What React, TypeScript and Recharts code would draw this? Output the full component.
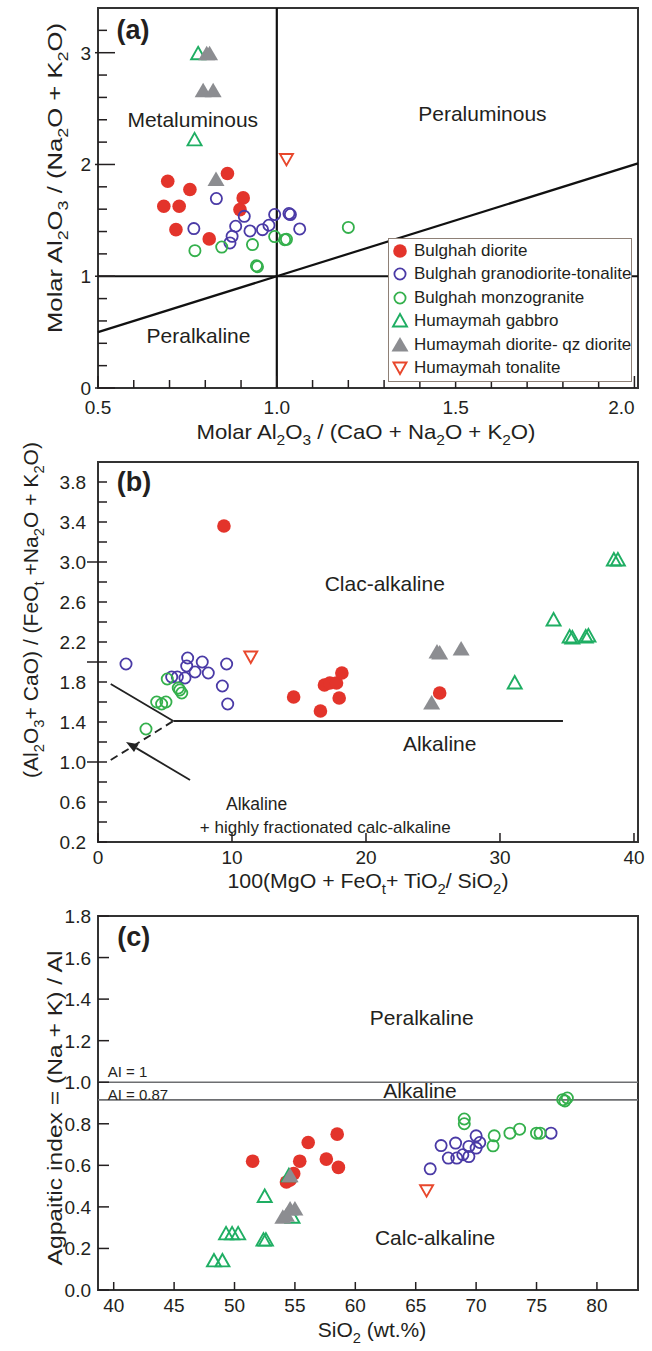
import React from "react";
import {
  ScatterChart,
  Scatter,
  XAxis,
  YAxis,
  ReferenceLine,
  ReferenceArea,
  ReferenceDot,
  Legend,
  Label,
} from "recharts";

const FONT = '"Liberation Sans", Arial, Helvetica, sans-serif';
const INK = "#231f20";
const RED = "#e3342b";
const BLUE = "#4a3aa6";
const GREEN = "#34b04c";
const TEAL = "#1fae63";
const GREY = "#8c8d91";
const ORANGE = "#e8472c";

type Pt = [number, number];

// ---- (a) A/NK vs A/CNK
const aDiorite: Pt[] = [[0.695, 1.85], [0.757, 1.776], [0.684, 1.626], [0.727, 1.626], [0.718, 1.417], [0.811, 1.334], [0.862, 1.919], [0.906, 1.701], [0.897, 1.596]];
const aGranodiorite: Pt[] = [[0.831, 1.695], [0.768, 1.426], [0.909, 1.536], [0.885, 1.447], [0.875, 1.357], [0.869, 1.298], [0.925, 1.405], [0.96, 1.417], [0.978, 1.456], [0.994, 1.552], [1.034, 1.561], [1.038, 1.552], [1.064, 1.423]];
const aMonzogranite: Pt[] = [[0.771, 1.229], [0.846, 1.261], [0.932, 1.283], [0.943, 1.094], [0.946, 1.085], [0.994, 1.355], [1.022, 1.327], [1.027, 1.33], [1.2, 1.437]];
const aGabbro: Pt[] = [[0.78, 2.99], [0.77, 2.22]];
const aQzDiorite: Pt[] = [[0.804, 2.99], [0.812, 2.99], [0.794, 2.66], [0.822, 2.66], [0.83, 1.865]];
const aTonalite: Pt[] = [[1.027, 2.045]];

// ---- (b) (Al2O3+CaO)/(FeOt+Na2O+K2O) vs 100(MgO+FeOt+TiO2)/SiO2
const bDiorite: Pt[] = [[9.4, 3.36], [14.6, 1.65], [16.6, 1.51], [16.9, 1.77], [17.3, 1.79], [17.8, 1.79], [18.2, 1.89], [18.0, 1.64], [25.5, 1.69]];
const bGranodiorite: Pt[] = [[2.09, 1.98], [6.69, 2.04], [7.78, 2.0], [9.6, 1.98], [6.62, 1.96], [7.24, 1.9], [8.23, 1.89], [6.49, 1.84], [5.92, 1.85], [5.5, 1.85], [9.28, 1.76], [9.68, 1.58]];
const bMonzogranite: Pt[] = [[5.17, 1.83], [5.99, 1.74], [6.1, 1.72], [6.25, 1.69], [4.38, 1.6], [4.75, 1.58], [5.07, 1.6], [3.58, 1.33]];
const bGabbro: Pt[] = [[31.1, 1.79], [34.0, 2.42], [35.2, 2.25], [35.4, 2.24], [36.4, 2.25], [36.6, 2.26], [38.5, 3.02], [38.8, 3.02]];
const bQzDiorite: Pt[] = [[25.3, 2.1], [25.5, 2.09], [27.1, 2.13], [24.9, 1.59]];
const bTonalite: Pt[] = [[11.4, 2.05]];

// ---- (c) agpaitic index vs SiO2
const cDiorite: Pt[] = [[51.5, 0.62], [54.3, 0.52], [54.6, 0.53], [54.9, 0.56], [55.4, 0.62], [56.1, 0.71], [57.6, 0.63], [58.5, 0.75], [58.6, 0.59]];
const cGranodiorite: Pt[] = [[76.2, 0.755], [66.2, 0.583], [67.1, 0.695], [68.3, 0.707], [67.7, 0.635], [68.4, 0.635], [68.9, 0.651], [69.4, 0.642], [69.4, 0.691], [70.0, 0.742], [70.3, 0.71], [70.0, 0.683]];
const cMonzogranite: Pt[] = [[77.17, 0.916], [77.55, 0.924], [77.35, 0.91], [69.02, 0.823], [69.02, 0.8], [71.5, 0.742], [71.4, 0.694], [72.8, 0.755], [73.6, 0.774], [75.0, 0.755], [75.3, 0.755]];
const cGabbro: Pt[] = [[48.3, 0.14], [49.0, 0.14], [49.3, 0.27], [49.8, 0.27], [50.3, 0.27], [52.4, 0.24], [52.6, 0.24], [52.5, 0.45], [54.8, 0.35], [54.5, 0.55]];
const cQzDiorite: Pt[] = [[54.0, 0.35], [54.3, 0.36], [54.6, 0.39], [55.0, 0.39], [54.6, 0.55]];
const cTonalite: Pt[] = [[65.9, 0.478]];

const SERIES = [
  { name: "Bulghah diorite", kind: "dot" },
  { name: "Bulghah granodiorite-tonalite", kind: "ringBlue" },
  { name: "Bulghah monzogranite", kind: "ringGreen" },
  { name: "Humaymah gabbro", kind: "tri" },
  { name: "Humaymah diorite- qz diorite", kind: "triFill" },
  { name: "Humaymah tonalite", kind: "inv" },
];
const A_DATA = [aDiorite, aGranodiorite, aMonzogranite, aGabbro, aQzDiorite, aTonalite];
const B_DATA = [bDiorite, bGranodiorite, bMonzogranite, bGabbro, bQzDiorite, bTonalite];
const C_DATA = [cDiorite, cGranodiorite, cMonzogranite, cGabbro, cQzDiorite, cTonalite];

// axes
const A_X_DOMAIN = [0.5, 2.01];
const A_X_TICKS = [0.5, 0.6, 0.7, 0.8, 0.9, 1.0, 1.1, 1.2, 1.3, 1.4, 1.5, 1.6, 1.7, 1.8, 1.9, 2.0];
const A_X_LABELS = [0.5, 1.0, 1.5, 2.0];
const A_Y_DOMAIN = [0, 3.4];
const A_Y_TICKS = [0, 0.2, 0.4, 0.6, 0.8, 1, 1.2, 1.4, 1.6, 1.8, 2, 2.2, 2.4, 2.6, 2.8, 3, 3.2];
const A_Y_LABELS = [0, 1, 2, 3];

const B_X_DOMAIN = [0, 40.3];
const B_X_TICKS = [0, 10, 20, 30, 40];
const B_Y_DOMAIN = [0.2, 4.0];
const B_Y_TICKS = [0.2, 0.4, 0.6, 0.8, 1.0, 1.2, 1.4, 1.6, 1.8, 2.0, 2.2, 2.4, 2.6, 2.8, 3.0, 3.2, 3.4, 3.6, 3.8];
const B_Y_LABELS = [0.2, 0.6, 1.0, 1.4, 1.8, 2.2, 2.6, 3.0, 3.4, 3.8];
const B_Y_MAJOR = [1, 2, 3];

const C_X_DOMAIN = [38.7, 83.4];
const C_X_TICKS = [40, 45, 50, 55, 60, 65, 70, 75, 80];
const C_Y_DOMAIN = [0, 1.8];
const C_Y_TICKS = [0, 0.2, 0.4, 0.6, 0.8, 1.0, 1.2, 1.4, 1.6, 1.8];

const toXY = (pts: Pt[]) => pts.map(([x, y]) => ({ x, y }));
const has = (arr: number[], v: number) => arr.some((t) => Math.abs(t - v) < 1e-6);

function Marker({ kind, cx, cy }: { kind: string; cx: number; cy: number }) {
  if (kind === "dot") return <circle cx={cx} cy={cy} r={6.8} fill={RED} />;
  if (kind === "ringBlue") return <circle cx={cx} cy={cy} r={5.6} fill="none" stroke={BLUE} strokeWidth={1.8} />;
  if (kind === "ringGreen") return <circle cx={cx} cy={cy} r={5.6} fill="none" stroke={GREEN} strokeWidth={1.8} />;
  if (kind === "tri")
    return <polygon points={`${cx},${cy - 7} ${cx + 7},${cy + 5.5} ${cx - 7},${cy + 5.5}`} fill="none" stroke={TEAL} strokeWidth={1.9} />;
  if (kind === "triFill")
    return <polygon points={`${cx},${cy - 8} ${cx + 8.5},${cy + 6.5} ${cx - 8.5},${cy + 6.5}`} fill={GREY} />;
  return <polygon points={`${cx - 6.5},${cy - 5.5} ${cx + 6.5},${cy - 5.5} ${cx},${cy + 6}`} fill="none" stroke={ORANGE} strokeWidth={1.9} />;
}

// text with _x subscripts
function Sub({ text, x, y, size = 21, anchor = "middle", rotate = false, weight = 400, length }: any) {
  const parts = text.split(/(_[A-Za-z0-9])/).filter((s: string) => s.length);
  const shift = size * 0.3;
  let down = false;
  const spans = parts.map((s: string, i: number) => {
    if (s[0] === "_") {
      const el = <tspan key={i} dy={down ? 0 : shift} fontSize={size * 0.7}>{s.slice(1)}</tspan>;
      down = true;
      return el;
    }
    const el = <tspan key={i} dy={down ? -shift : 0}>{s}</tspan>;
    down = false;
    return el;
  });
  return (
    <text
      x={x}
      y={y}
      textAnchor={anchor}
      transform={rotate ? `rotate(-90 ${x} ${y})` : undefined}
      fontSize={size}
      fontFamily={FONT}
      fontWeight={weight}
      fill={INK}
      textLength={length}
      lengthAdjust={length ? "spacingAndGlyphs" : undefined}
    >
      {spans}
    </text>
  );
}

function note(x: number, y: number, text: string, opt: { size?: number; anchor?: string; bold?: boolean } = {}) {
  const size = opt.size ?? 21;
  return (
    <ReferenceDot
      x={x}
      y={y}
      r={0}
      ifOverflow="visible"
      shape={(p: any) => (
        <Sub text={text} x={p.cx} y={p.cy + size * 0.36} size={size} anchor={opt.anchor ?? "middle"} weight={opt.bold ? 700 : 400} />
      )}
    />
  );
}

function yTick(labels: number[], major: number[], fmt: (v: number) => string, o: { majIn: number; minIn: number; majOut: number; gap: number }) {
  return (p: any) => {
    const v = p.payload.value;
    const isMaj = has(major, v);
    return (
      <g>
        <line x1={p.x - (isMaj ? o.majOut : 0)} x2={p.x + (isMaj ? o.majIn : o.minIn)} y1={p.y} y2={p.y} stroke={INK} strokeWidth={1.5} />
        {has(labels, v) && (
          <text x={p.x - o.gap} y={p.y + 7} textAnchor="end" fontSize={19} fontFamily={FONT} fill={INK}>
            {fmt(v)}
          </text>
        )}
      </g>
    );
  };
}

function xTick(labels: number[], fmt: (v: number) => string, o: { majIn: number; minIn: number; below: number; nudge?: Record<string, number> }) {
  return (p: any) => {
    const v = p.payload.value;
    const lab = has(labels, v);
    const dx = (o.nudge && o.nudge[String(v)]) || 0;
    return (
      <g>
        <line x1={p.x} x2={p.x} y1={p.y} y2={p.y - (lab ? o.majIn : o.minIn)} stroke={INK} strokeWidth={1.5} />
        {lab && (
          <text x={p.x + dx} y={p.y + o.below} textAnchor="middle" fontSize={19} fontFamily={FONT} fill={INK}>
            {fmt(v)}
          </text>
        )}
      </g>
    );
  };
}

function LegendBox() {
  return (
    <div
      style={{
        width: 244,
        height: 144,
        boxSizing: "border-box",
        border: "1.5px solid #8e8076",
        background: "#fff",
        fontFamily: FONT,
        fontSize: 17,
        color: INK,
      }}
    >
      {SERIES.map((s) => (
        <div key={s.name} style={{ display: "flex", alignItems: "center", height: 23.5 }}>
          <svg width={24} height={20} style={{ flex: "none" }}>
            <Marker kind={s.kind} cx={11} cy={10} />
          </svg>
          <span style={{ marginLeft: 1, whiteSpace: "nowrap" }}>{s.name}</span>
        </div>
      ))}
    </div>
  );
}

const scatters = (data: Pt[][]) =>
  SERIES.map((s, i) => (
    <Scatter
      key={s.name}
      name={s.name}
      data={toXY(data[i])}
      isAnimationActive={false}
      shape={(p: any) => <Marker kind={s.kind} cx={p.cx} cy={p.cy} />}
    />
  ));

const frame = (xd: number[], yd: number[]) => (
  <ReferenceArea x1={xd[0]} x2={xd[1]} y1={yd[0]} y2={yd[1]} fill="none" fillOpacity={0} stroke="#333" strokeWidth={2} />
);

export default function App() {
  return (
    <div style={{ position: "absolute", left: 0, top: 0, width: 652, height: 1351, background: "#fff" }}>
      {/* (a) */}
      <div style={{ position: "absolute", left: 0, top: 0 }}>
        <ScatterChart width={652} height={450} margin={{ top: 8, right: 14, bottom: 0, left: 0 }}>
          <XAxis
            type="number"
            dataKey="x"
            domain={A_X_DOMAIN}
            ticks={A_X_TICKS}
            interval={0}
            allowDataOverflow
            height={62}
            tickSize={0}
            tickMargin={0}
            axisLine={false}
            tickLine={false}
            tick={xTick(A_X_LABELS, (v) => v.toFixed(1), { majIn: 12, minIn: 8, below: 26, nudge: { "2": -13 } })}
          >
            <Label content={() => <Sub text="Molar Al_2O_3 / (CaO + Na_2O + K_2O)" x={366} y={439} length={339} />} />
          </XAxis>
          <YAxis
            type="number"
            dataKey="y"
            domain={A_Y_DOMAIN}
            ticks={A_Y_TICKS}
            interval={0}
            allowDataOverflow
            width={98}
            tickSize={0}
            tickMargin={0}
            axisLine={false}
            tickLine={false}
            tick={yTick(A_Y_LABELS, A_Y_LABELS, (v) => String(v), { majIn: 17, minIn: 9, majOut: 3, gap: 7 })}
          >
            <Label content={() => <Sub text="Molar Al_2O_3 / (Na_2O + K_2O)" x={62} y={178} rotate length={310} />} />
          </YAxis>
          {frame(A_X_DOMAIN, A_Y_DOMAIN)}
          <ReferenceLine x={1} stroke="#111" strokeWidth={2.2} />
          <ReferenceLine y={1} stroke="#111" strokeWidth={2.2} />
          <ReferenceLine segment={[{ x: 0.5, y: 0.5 }, { x: 2.01, y: 2.01 }]} stroke="#111" strokeWidth={2.2} />
          {note(0.598, 3.21, "(a)", { size: 27, bold: true })}
          {note(0.765, 2.4, "Metaluminous")}
          {note(1.575, 2.457, "Peraluminous")}
          {note(0.781, 0.466, "Peralkaline")}
          {scatters(A_DATA)}
          <Legend
            layout="horizontal"
            verticalAlign="middle"
            align="center"
            wrapperStyle={{ left: 388, top: 238, width: 244, height: 144 }}
            content={() => <LegendBox />}
          />
        </ScatterChart>
      </div>

      {/* (b) */}
      <div style={{ position: "absolute", left: 0, top: 430 }}>
        <ScatterChart width={652} height={470} margin={{ top: 32, right: 14, bottom: 0, left: 0 }}>
          <XAxis
            type="number"
            dataKey="x"
            domain={B_X_DOMAIN}
            ticks={B_X_TICKS}
            interval={0}
            allowDataOverflow
            height={58}
            tickSize={0}
            tickMargin={0}
            axisLine={false}
            tickLine={false}
            tick={xTick(B_X_TICKS, (v) => String(v), { majIn: 9, minIn: 6, below: 22 })}
          >
            <Label content={() => <Sub text="100(MgO + FeO_t+ TiO_2/ SiO_2)" x={368} y={458} length={281} />} />
          </XAxis>
          <YAxis
            type="number"
            dataKey="y"
            domain={B_Y_DOMAIN}
            ticks={B_Y_TICKS}
            interval={0}
            allowDataOverflow
            width={98}
            tickSize={0}
            tickMargin={0}
            axisLine={false}
            tickLine={false}
            tick={yTick(B_Y_LABELS, B_Y_MAJOR, (v) => v.toFixed(1), { majIn: 9, minIn: 9, majOut: 11, gap: 12 })}
          >
            <Label content={() => <Sub text="(Al_2O_3+ CaO) / (FeO_t +Na_2O + K_2O)" x={38} y={180} rotate length={336} />} />
          </YAxis>
          {frame(B_X_DOMAIN, B_Y_DOMAIN)}
          <ReferenceLine segment={[{ x: 0.95, y: 1.78 }, { x: 5.62, y: 1.41 }]} stroke="#222" strokeWidth={1.8} />
          <ReferenceLine segment={[{ x: 5.62, y: 1.41 }, { x: 34.7, y: 1.41 }]} stroke="#222" strokeWidth={1.8} />
          <ReferenceLine segment={[{ x: 0.95, y: 1.02 }, { x: 5.62, y: 1.41 }]} stroke="#222" strokeWidth={1.8} strokeDasharray="8 5" />
          <ReferenceLine
            segment={[{ x: 6.87, y: 0.82 }, { x: 2.09, y: 1.2 }]}
            stroke="#222"
            shape={(p: any) => {
              const { x1, y1, x2, y2 } = p;
              const a = Math.atan2(y2 - y1, x2 - x1);
              const bx = x2 - 12 * Math.cos(a);
              const by = y2 - 12 * Math.sin(a);
              const w = 4.5;
              return (
                <g>
                  <line x1={x1} y1={y1} x2={bx} y2={by} stroke="#222" strokeWidth={1.8} />
                  <polygon
                    points={`${x2},${y2} ${bx - w * Math.sin(a)},${by + w * Math.cos(a)} ${bx + w * Math.sin(a)},${by - w * Math.cos(a)}`}
                    fill="#222"
                  />
                </g>
              );
            }}
          />
          {note(2.69, 3.81, "(b)", { size: 27, bold: true })}
          {note(21.4, 2.79, "Clac-alkaline")}
          {note(25.5, 1.19, "Alkaline")}
          {note(9.55, 0.58, "Alkaline", { size: 17.5, anchor: "start" })}
          {note(7.6, 0.35, "+ highly fractionated calc-alkaline", { size: 17, anchor: "start" })}
          {scatters(B_DATA)}
        </ScatterChart>
      </div>

      {/* (c) */}
      <div style={{ position: "absolute", left: 0, top: 900 }}>
        <ScatterChart width={652} height={451} margin={{ top: 16, right: 14, bottom: 0, left: 0 }}>
          <XAxis
            type="number"
            dataKey="x"
            domain={C_X_DOMAIN}
            ticks={C_X_TICKS}
            interval={0}
            allowDataOverflow
            height={61}
            tickSize={0}
            tickMargin={0}
            axisLine={false}
            tickLine={false}
            tick={xTick(C_X_TICKS, (v) => String(v), { majIn: 8, minIn: 8, below: 22 })}
          >
            <Label content={() => <Sub text="SiO_2 (wt.%)" x={372} y={437} />} />
          </XAxis>
          <YAxis
            type="number"
            dataKey="y"
            domain={C_Y_DOMAIN}
            ticks={C_Y_TICKS}
            interval={0}
            allowDataOverflow
            width={98}
            tickSize={0}
            tickMargin={0}
            axisLine={false}
            tickLine={false}
            tick={yTick(C_Y_TICKS, [], (v) => v.toFixed(1), { majIn: 11, minIn: 11, majOut: 0, gap: 7 })}
          >
            <Label content={() => <Sub text="Agpaitic index = (Na + K) / Al" x={62} y={208} rotate length={315} />} />
          </YAxis>
          {frame(C_X_DOMAIN, C_Y_DOMAIN)}
          <ReferenceLine y={1.0} stroke="#6d6e71" strokeWidth={1.6} />
          <ReferenceLine y={0.915} stroke="#6d6e71" strokeWidth={1.6} />
          {note(41.66, 1.7, "(c)", { size: 27, bold: true })}
          {note(65.5, 1.31, "Peralkaline")}
          {note(65.35, 0.96, "Alkaline")}
          {note(66.6, 0.255, "Calc-alkaline")}
          {note(39.5, 1.05, "AI = 1", { size: 15, anchor: "start" })}
          {note(39.5, 0.94, "AI = 0.87", { size: 15, anchor: "start" })}
          {scatters(C_DATA)}
        </ScatterChart>
      </div>
    </div>
  );
}
